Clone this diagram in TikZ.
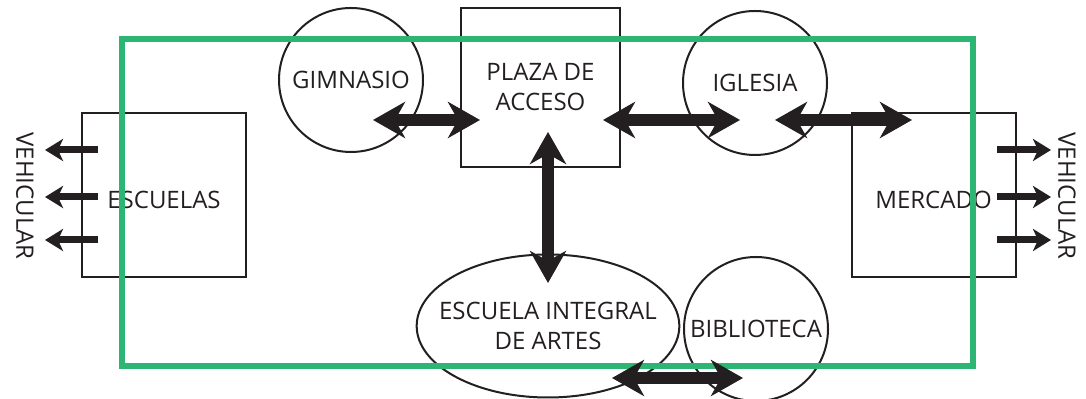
\documentclass[tikz,border=0pt]{standalone}
\usepackage{fontspec}
\setmainfont{Open Sans}
\usetikzlibrary{arrows.meta,shapes.geometric}
\definecolor{verde}{RGB}{44,181,115}
\definecolor{negro}{RGB}{35,31,32}

\begin{document}
\begin{tikzpicture}[x=0.5pt,y=-0.5pt,
  every node/.style={text=negro,font=\fontsize{12}{15}\selectfont,align=center,inner sep=0pt},
  caja/.style={draw=negro,line width=1pt,minimum width=82pt,minimum height=82pt},
  bajo/.style={text height=13.6pt,text depth=0pt},
  zona/.style={draw=negro,line width=1pt,circle,minimum size=72pt},
  flecha/.style={negro,line width=6pt,{Stealth[length=16pt,width=18pt,inset=5pt]}-{Stealth[length=16pt,width=18pt,inset=5pt]}},
  salida/.style={negro,line width=3.5pt,-{Stealth[length=9pt,width=11pt,inset=2.5pt]}}]
  \useasboundingbox (0,0) rectangle (1086,399);

  % bloques
  \node[caja,bajo] (escuelas) at (164,195) {ESCUELAS};
  \node[caja,bajo] (mercado) at (933.5,195) {MERCADO};
  \node[caja,minimum width=79.5pt,minimum height=79.5pt] (plaza) at (540.5,87.5) {PLAZA DE\\ACCESO};
  \node[zona] (gimnasio) at (351,80) {GIMNASIO};
  \node[zona] (iglesia) at (755,83) {IGLESIA};
  \node[zona] (biblioteca) at (756,329) {BIBLIOTECA};
  \node[draw=negro,line width=1pt,ellipse,inner xsep=-8pt,minimum width=129.5pt,minimum height=71.5pt] (artes) at (548,326) {ESCUELA INTEGRAL\\DE ARTES};

  \node[rotate=-90] (vehizq) at (25,196) {VEHICULAR};
  \node[rotate=-90] (vehder) at (1067,196) {VEHICULAR};

  % limite del terreno
  \draw[verde,line width=3pt] (122,39) rectangle (973,366);

  % extremos de las flechas
  \coordinate (gim1) at (373,120);
  \coordinate (pla1) at (480,120);
  \coordinate (pla2) at (603,120);
  \coordinate (igl1) at (740,120);
  \coordinate (igl2) at (775,120);
  \coordinate (mer1) at (912,120);
  \coordinate (pla3) at (548,132);
  \coordinate (art1) at (548,283);
  \coordinate (art2) at (612,378);
  \coordinate (bib1) at (743,378);

  \draw[flecha] (gim1) -- (pla1);
  \draw[flecha] (pla2) -- (igl1);
  \draw[flecha] (igl2) -- (mer1);
  \draw[flecha] (pla3) -- (art1);
  \draw[flecha] (art2) -- (bib1);

  \foreach \y in {150,197,240} {
    \draw[salida] (98,\y) -- (45,\y);
    \draw[salida] (997,\y) -- (1051,\y);
  }
\end{tikzpicture}
\end{document}
